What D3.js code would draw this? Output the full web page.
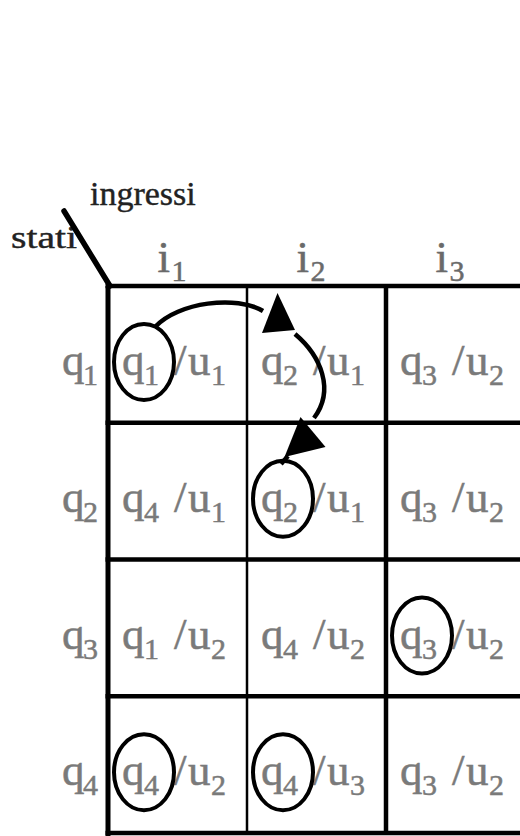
<!DOCTYPE html>
<html>
<head>
<meta charset="utf-8">
<script src="https://cdn.jsdelivr.net/npm/d3@7"></script>
<style>
  html, body { margin: 0; padding: 0; background: #fff; }
  svg { display: block; }
</style>
</head>
<body>
<script>
// table data: rows are states, columns are inputs
const inputs = ["i1", "i2", "i3"];
const states = ["q1", "q2", "q3", "q4"];
const nextState = [
  ["q1", "q2", "q3"],
  ["q4", "q2", "q3"],
  ["q1", "q4", "q3"],
  ["q4", "q4", "q3"]
];
const outputs = [
  ["u1", "u1", "u2"],
  ["u1", "u1", "u2"],
  ["u2", "u2", "u2"],
  ["u2", "u3", "u2"]
];
const axisTitles = ["ingressi", "stati"];

const W = 520, H = 836;
const font = "'Liberation Serif', 'Times New Roman', serif";
const grey = "#7a7a7a";

const svg = d3.select("body").append("svg")
  .attr("width", W)
  .attr("height", H);

const x = d3.scaleBand().domain(inputs).range([108, 525]);
const y = d3.scaleBand().domain(states).range([286, 833]);

// writes "q1" as q + subscript 1
function subLabel(sel, label, x0, subdx, big, small, drop) {
  sel.append("tspan").attr("x", x0).attr("font-size", big).text(label[0]);
  sel.append("tspan").attr("x", x0 + subdx).attr("dy", drop)
    .attr("font-size", small).text(label.slice(1));
}

// cells
const cells = [];
states.forEach((s, r) => inputs.forEach((inp, c) => {
  cells.push({ s, inp, next: nextState[r][c], out: outputs[r][c] });
}));

const cellText = svg.append("g").attr("font-family", font).attr("fill", grey)
  .attr("stroke", grey).attr("stroke-width", 0.5)
  .selectAll("text").data(cells).join("text")
  .attr("y", d => y(d.s) + 89);

cellText.each(function (d) {
  const t = d3.select(this);
  const x0 = x(d.inp);
  t.append("tspan").attr("x", x0 + 14).attr("font-size", 45).text(d.next[0]);
  t.append("tspan").attr("x", x0 + 36).attr("dy", 10).attr("font-size", 30).text(d.next.slice(1));
  t.append("tspan").attr("x", x0 + 66).attr("dy", -10).attr("font-size", 45).text("/");
  t.append("tspan").attr("x", x0 + 80).attr("font-size", 45).text(d.out[0]);
  t.append("tspan").attr("x", x0 + 103).attr("dy", 10).attr("font-size", 30).text(d.out.slice(1));
});

// row labels
svg.append("g").attr("font-family", font).attr("fill", grey)
  .attr("stroke", grey).attr("stroke-width", 0.5)
  .selectAll("text").data(states).join("text")
  .attr("y", d => y(d) + 89)
  .each(function (d) { subLabel(d3.select(this), d, 62, 21, 45, 30, 10); });

// column labels
svg.append("g").attr("font-family", font).attr("fill", "#6a6a6a")
  .attr("stroke", "#6a6a6a").attr("stroke-width", 0.5)
  .selectAll("text").data(inputs).join("text")
  .attr("y", 272)
  .each(function (d) {
    subLabel(d3.select(this), d, x(d) + x.bandwidth() / 2 - 20, 14, 45, 30, 9);
  });

// corner titles
svg.append("text").attr("x", 90).attr("y", 205)
  .attr("font-family", font).attr("font-size", 34).attr("fill", "#222")
  .attr("stroke", "#222").attr("stroke-width", 0.4)
  .text(axisTitles[0]);
svg.append("text").attr("x", 11).attr("y", 248)
  .attr("font-family", font).attr("font-size", 31).attr("fill", "#222")
  .attr("stroke", "#222").attr("stroke-width", 0.4)
  .attr("textLength", 66).attr("lengthAdjust", "spacingAndGlyphs")
  .text(axisTitles[1]);
svg.append("line")
  .attr("x1", 64).attr("y1", 211).attr("x2", x.range()[0] + 2).attr("y2", y.range()[0])
  .attr("stroke", "#000").attr("stroke-width", 5.5).attr("stroke-linecap", "round");

// grid
const grid = svg.append("g").attr("stroke", "#000");
const rowEdges = states.map(s => y(s)).concat(y.range()[1]);
grid.selectAll("line.h").data(rowEdges).join("line")
  .attr("class", "h")
  .attr("x1", x.range()[0] - 2.5).attr("x2", W)
  .attr("y1", d => d).attr("y2", d => d)
  .attr("stroke-width", 4.5);
grid.selectAll("line.v").data(inputs).join("line")
  .attr("class", "v")
  .attr("x1", d => x(d)).attr("x2", d => x(d))
  .attr("y1", y.range()[0]).attr("y2", (d, i) => i === 0 ? H : y.range()[1])
  .attr("stroke-width", (d, i) => i === 0 ? 5 : i === 1 ? 2.5 : 4.5);

// stable states get a ring around the next-state label
const ring = svg.append("g").attr("fill", "none").attr("stroke", "#000").attr("stroke-width", 4);
ring.selectAll("ellipse").data(cells.filter(d => d.next === d.s)).join("ellipse")
  .attr("cx", d => x(d.inp) + 36)
  .attr("cy", d => y(d.s) + 76)
  .attr("rx", 30)
  .attr("ry", 38);

// transition arrow q1 -> (q1,i2) -> q2
const ax = x("i2"), ay = y("q1");
const arrow = svg.append("g");
const p1 = d3.path();
p1.moveTo(x("i1") + 47, ay + 41);
p1.bezierCurveTo(x("i1") + 70, ay + 16, ax - 10, ay + 9, ax + 16, ay + 25);
const p2 = d3.path();
p2.moveTo(ax + 48, ay + 48);
p2.bezierCurveTo(ax + 74, ay + 70, ax + 88, ay + 104, ax + 67, ay + 132);
p2.moveTo(ax + 41, ay + 170);
p2.lineTo(ax + 34, ay + 178);
arrow.selectAll("path.arc").data([p1, p2]).join("path")
  .attr("class", "arc")
  .attr("d", d => d.toString())
  .attr("fill", "none").attr("stroke", "#000").attr("stroke-width", 4.5);

const heads = [
  [[ax + 30.5, ay + 7], [ax + 15, ay + 47], [ax + 48, ay + 44]],
  [[ax + 53.5, ay + 131], [ax + 37.5, ay + 171], [ax + 78.5, ay + 161]]
];
arrow.selectAll("path.head").data(heads).join("path")
  .attr("class", "head")
  .attr("d", d => d3.line()(d) + "Z")
  .attr("fill", "#000");
</script>
</body>
</html>
